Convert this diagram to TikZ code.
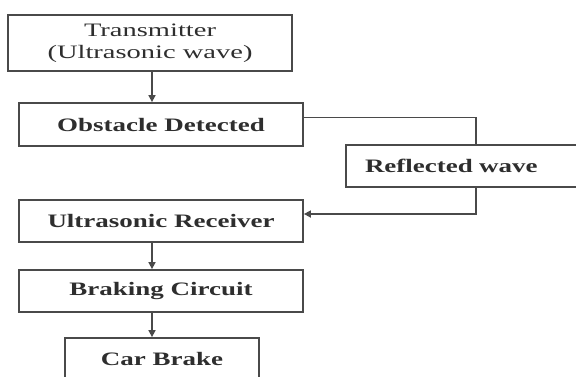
\documentclass[tikz,border=0pt]{standalone}
\usepackage{fontspec}
\newfontfamily\regf{Liberation Serif}[FakeStretch=1.5]
\newfontfamily\boldf{Liberation Serif}[FakeStretch=1.42]
\usetikzlibrary{arrows.meta}
\definecolor{ln}{HTML}{4A4A4A}
\definecolor{tx}{HTML}{2E2E2E}
\tikzset{
  box/.style={draw=ln, line width=1.8pt, fill=white, text=tx, inner sep=0pt,
    minimum width=284pt, minimum height=42pt, align=center,
    font=\boldf\bfseries\fontsize{19}{22}\selectfont},
  line/.style={draw=ln, line width=1.6pt},
  arr/.style={line, -{Triangle[length=7pt,width=7pt]}}
}
\begin{document}
\begin{tikzpicture}[x=1pt,y=-1pt]
\useasboundingbox[fill=white] (0,0) rectangle (576,376);
\node[box, minimum height=56pt, font=\regf\fontsize{19}{22}\selectfont] (tr) at (150,43) {Transmitter\\(Ultrasonic wave)};
\node[box, minimum height=43pt] (ob) at (161,124.5) {Obstacle Detected};
\node[box, minimum width=244pt, text width=206pt, inner xsep=19pt, align=left] (rf) at (468,166) {Reflected wave};
\node[box] (rx) at (161,221) {Ultrasonic Receiver};
\node[box] (br) at (161,291) {Braking Circuit};
\node[box, minimum width=194pt] (cb) at (162,359) {Car Brake};
\draw[arr] ([xshift=2pt]tr.south) -- ([xshift=-9pt]ob.north);
\draw[line] ([yshift=7pt]ob.east) -| ([xshift=131pt]rf.north west);
\draw[arr] ([xshift=131pt]rf.south west) |- ([yshift=7pt]rx.east);
\draw[arr] ([xshift=-9pt]rx.south) -- ([xshift=-9pt]br.north);
\draw[arr] ([xshift=-9pt]br.south) -- ([xshift=-10pt]cb.north);
\end{tikzpicture}
\end{document}
